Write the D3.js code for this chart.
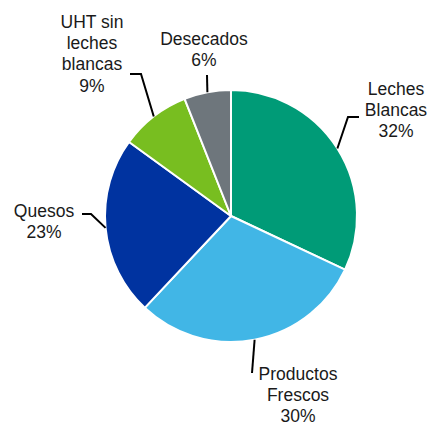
<!DOCTYPE html>
<html><head><meta charset="utf-8">
<script src="https://cdn.jsdelivr.net/npm/d3@7/dist/d3.min.js"></script>
<style>html,body{margin:0;padding:0;background:#fff}</style>
</head><body>
<svg id="c" width="432" height="426"></svg>
<script>
const categories = ["Leches Blancas", "Productos Frescos", "Quesos", "UHT sin leches blancas", "Desecados"];
const values = [32, 30, 23, 9, 6];
const labelLines = [["Leches","Blancas"],["Productos","Frescos"],["Quesos"],["UHT sin","leches","blancas"],["Desecados"]];
const colors = ["#009B77", "#41B6E6", "#0033A0", "#78BE20", "#6E767C"];

// layout (label anchors and leader elbows)
const layout = [
  {tx:396, ty:95,  elbow:[348,117], end:[359,117]},
  {tx:298, ty:380, elbow:[252,373], end:null},
  {tx:44,  ty:217, elbow:[91,214],  end:[82,214]},
  {tx:92,  ty:28,  elbow:[141,74],  end:[130,74]},
  {tx:204, ty:45,  elbow:[207,75],  end:null}
];

const cx = 231, cy = 216, r = 126;
const svg = d3.select("#c");
const g = svg.append("g").attr("transform", `translate(${cx},${cy})`);
const data = categories.map((c,i)=>({name:c, value:values[i], i}));
const pie = d3.pie().value(d=>d.value).sort(null);
const arcs = pie(data);
const arc = d3.arc().innerRadius(0).outerRadius(r);

g.selectAll("path.slice").data(arcs).join("path")
  .attr("class","slice")
  .attr("d", arc)
  .attr("fill", d=>colors[d.data.i])
  .attr("stroke","#fff").attr("stroke-width",2).attr("stroke-linejoin","round");

// leader lines
arcs.forEach((a,k)=>{
  const mid = (a.startAngle + a.endAngle)/2;
  const sx = cx + r*Math.sin(mid), sy = cy - r*Math.cos(mid);
  const L = layout[k];
  const pts = [[sx,sy], L.elbow];
  if (L.end) pts.push(L.end);
  svg.append("path").attr("d", d3.line()(pts))
    .attr("fill","none").attr("stroke","#000").attr("stroke-width",2);
  const lines = labelLines[k].concat([values[k] + "%"]);
  const t = svg.append("text")
    .attr("text-anchor","middle")
    .attr("font-family","'Liberation Sans', Arial, sans-serif")
    .attr("font-size","17.5px").attr("fill","#1a1a1a");
  lines.forEach((s,j)=>{
    t.append("tspan").attr("x", L.tx).attr("y", L.ty + j*21.2).text(s);
  });
});
</script>
</body></html>
